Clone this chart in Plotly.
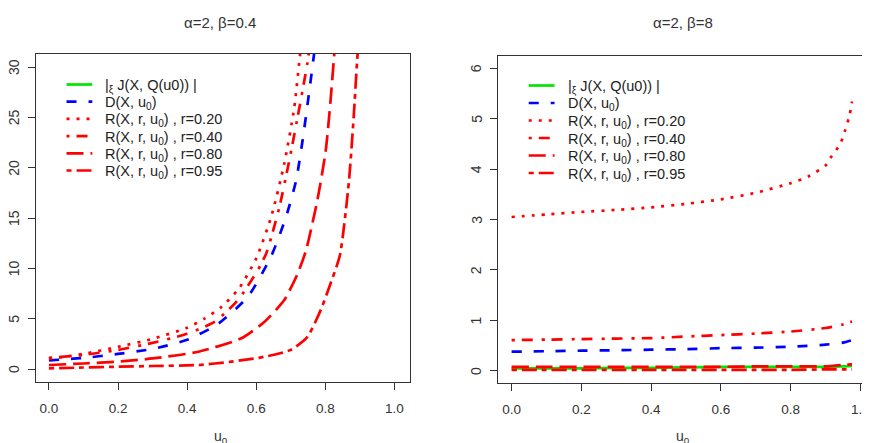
import plotly.graph_objects as go

# ---------------- Left panel (alpha=2, beta=0.4) ----------------
L_u_r20 = [0, 0.1, 0.2, 0.3, 0.4, 0.45, 0.5, 0.55, 0.6, 0.643, 0.681, 0.71, 0.725, 0.735]
L_v_r20 = [1.0, 1.5, 2.2, 3.0, 4.1, 5.0, 6.2, 8.0, 11.0, 15.1, 20.4, 26.0, 30.7, 33.5]

L_u_r40 = [0, 0.1, 0.2, 0.3, 0.4, 0.48, 0.547, 0.604, 0.629, 0.667, 0.696, 0.72, 0.748, 0.758]
L_v_r40 = [1.1, 1.4, 1.9, 2.6, 3.5, 4.7, 6.85, 9.8, 11.5, 16.1, 20.8, 25.1, 30.4, 33.0]

L_u_D = [0, 0.1, 0.2, 0.3, 0.4, 0.49, 0.576, 0.643, 0.686, 0.715, 0.734, 0.753, 0.768, 0.775]
L_v_D = [0.85, 1.1, 1.5, 2.0, 2.9, 4.5, 7.2, 11.2, 15.1, 18.7, 22.7, 27.5, 31.5, 33.5]

L_u_r80 = [0, 0.1, 0.2, 0.3, 0.433, 0.557, 0.624, 0.681, 0.72, 0.744, 0.777, 0.801, 0.815, 0.825, 0.83]
L_v_r80 = [0.4, 0.55, 0.73, 1.05, 1.72, 3.05, 4.7, 6.85, 9.5, 11.8, 16.8, 21.7, 26.7, 31.0, 33.0]

L_u_r95 = [0, 0.1, 0.2, 0.3, 0.433, 0.528, 0.624, 0.7, 0.748, 0.787, 0.815, 0.842, 0.868, 0.882, 0.892, 0.897]
L_v_r95 = [0.07, 0.15, 0.23, 0.3, 0.4, 0.73, 1.22, 1.9, 3.2, 5.9, 8.5, 11.3, 18.6, 25.1, 30.7, 33.0]

# ---------------- Right panel (alpha=2, beta=8) ----------------
R_u_r20 = [0, 0.1, 0.2, 0.3, 0.4, 0.5, 0.6, 0.7, 0.8, 0.85, 0.9, 0.917, 0.941, 0.955, 0.969, 0.976]
R_v_r20 = [3.05, 3.1, 3.15, 3.19, 3.24, 3.31, 3.4, 3.53, 3.72, 3.85, 4.07, 4.25, 4.48, 4.74, 5.07, 5.34]

R_u = [0, 0.1, 0.2, 0.3, 0.4, 0.5, 0.6, 0.7, 0.8, 0.9, 0.95, 0.976]
R_v_r40 = [0.61, 0.62, 0.63, 0.64, 0.65, 0.68, 0.71, 0.74, 0.78, 0.85, 0.92, 0.98]
R_v_D = [0.38, 0.39, 0.40, 0.41, 0.42, 0.43, 0.45, 0.46, 0.48, 0.52, 0.56, 0.61]
R_v_J = [0.05, 0.05, 0.05, 0.06, 0.06, 0.07, 0.08, 0.08, 0.08, 0.08, 0.09, 0.10]
R_v_r80 = [0.08, 0.08, 0.08, 0.08, 0.08, 0.08, 0.08, 0.09, 0.09, 0.09, 0.12, 0.13]
R_v_r95 = [0.02, 0.02, 0.02, 0.02, 0.02, 0.02, 0.02, 0.02, 0.02, 0.03, 0.03, 0.03]

titles = ["α=2, β=0.4", "α=2, β=8"]
names = [
    "|<sub>ξ</sub> J(X, Q(u0)) |",
    "D(X, u<sub>0</sub>)",
    "R(X, r, u<sub>0</sub>) , r=0.20",
    "R(X, r, u<sub>0</sub>) , r=0.40",
    "R(X, r, u<sub>0</sub>) , r=0.80",
    "R(X, r, u<sub>0</sub>) , r=0.95",
]
x_ticks = [0, 0.2, 0.4, 0.6, 0.8, 1.0]
x_ticklabels = ["0.0", "0.2", "0.4", "0.6", "0.8", "1.0"]
yL_ticks = [0, 5, 10, 15, 20, 25, 30]
yR_ticks = [0, 1, 2, 3, 4, 5, 6]

GREEN = "#00e600"
BLUE = "#0000ff"
RED = "#ff0000"
W = 2.7
styles = [
    dict(color=GREEN, width=W, dash="solid"),
    dict(color=BLUE, width=W, dash="10px,12px"),
    dict(color=RED, width=W, dash="3px,7px"),
    dict(color=RED, width=W, dash="3px,7px,11px,9px"),
    dict(color=RED, width=W, dash="17px,7px"),
    dict(color=RED, width=W, dash="5px,5px,15px,5px"),
]

left = [(L_u_D, L_v_D), (L_u_r20, L_v_r20), (L_u_r40, L_v_r40),
        (L_u_r80, L_v_r80), (L_u_r95, L_v_r95)]
left_style = [1, 2, 3, 4, 5]
right = [(R_u, R_v_J), (R_u, R_v_D), (R_u_r20, R_v_r20), (R_u, R_v_r40),
         (R_u, R_v_r80), (R_u, R_v_r95)]
right_style = [0, 1, 2, 3, 4, 5]

fig = go.Figure()
for (xs, ys), si in zip(left, left_style):
    fig.add_trace(go.Scatter(x=xs, y=ys, mode="lines", name=names[si],
                             line=dict(**styles[si], shape="spline", smoothing=0.6),
                             xaxis="x", yaxis="y", showlegend=False))
for (xs, ys), si in zip(right, right_style):
    fig.add_trace(go.Scatter(x=xs, y=ys, mode="lines", name=names[si],
                             line=dict(**styles[si], shape="spline", smoothing=0.6),
                             xaxis="x2", yaxis="y2", showlegend=False))

# The page body has an 8px margin; lay out in reference pixels minus that offset.
OFF = 8
FW = 870 - OFF
FH = 443 - OFF


def px(xr):
    return (xr - OFF) / FW


def py(yr):
    return 1 - (yr - OFF) / FH


AX = "#333333"
FONT = "Liberation Sans, Arial, sans-serif"
TXT = "#333333"
tickfont = dict(family=FONT, size=13.5, color=TXT)
ytickfont = dict(family=FONT, size=14, color=TXT)

common_x = dict(tickvals=x_ticks, ticktext=x_ticklabels, ticks="outside", ticklen=7,
                tickcolor=AX, showline=True, linecolor=AX, linewidth=1, showgrid=False,
                zeroline=False, tickfont=tickfont, ticklabelstandoff=7,
                ticklabeloverflow="allow")
common_y = dict(ticks="outside", ticklen=7, tickcolor=AX, showline=True, linecolor=AX,
                linewidth=1, showgrid=False, zeroline=False, showticklabels=False)

fig.update_layout(
    width=FW, height=FH,
    margin=dict(l=0, r=0, t=0, b=0),
    paper_bgcolor="white", plot_bgcolor="white",
    font=dict(family=FONT),
    showlegend=False,
    xaxis=dict(domain=[px(36), px(413)], range=[-0.038, 1.044], mirror=True, **common_x),
    yaxis=dict(domain=[py(382), py(54)], range=[-1.29, 31.3], tickvals=yL_ticks,
               mirror=True, anchor="x", **common_y),
    xaxis2=dict(domain=[px(502), 1.0], range=[-0.039, 1.0074], mirror=True, anchor="y2",
                **common_x),
    yaxis2=dict(domain=[py(383), py(56)], range=[-0.24, 6.24], tickvals=yR_ticks,
                mirror=False, anchor="x2", **common_y),
)

# rotated y tick labels (R style, reading upward)
for yref, ticks, xr in (("y", yL_ticks, 14), ("y2", yR_ticks, 480)):
    for t in ticks:
        fig.add_annotation(xref="paper", yref=yref, x=px(xr), y=t, text=str(t),
                           textangle=-90, showarrow=False, xanchor="center",
                           yanchor="middle", font=ytickfont)

# titles and x-axis labels
anns = [
    dict(text=titles[0], x=px(222), y=py(23), size=15),
    dict(text=titles[1], x=px(689), y=py(23), size=15),
    dict(text="u<sub>0</sub>", x=px(223), y=py(437), size=14),
    dict(text="u<sub>0</sub>", x=px(689), y=py(437), size=14),
]
for a in anns:
    size = a.pop("size")
    fig.add_annotation(xref="paper", yref="paper", showarrow=False, xanchor="center",
                       yanchor="middle", font=dict(family=FONT, size=size, color=TXT), **a)

# legends (key segments + text), one per panel
legend_specs = [
    dict(x0=67, x1=93, xt=104, y0=84.5, dy=17.2),
    dict(x0=533, x1=559, xt=571, y0=85.5, dy=17.5),
]
for spec in legend_specs:
    for i in range(6):
        yr = spec["y0"] + i * spec["dy"]
        st = styles[i]
        fig.add_shape(type="line", xref="paper", yref="paper",
                      x0=px(spec["x0"]), x1=px(spec["x1"]), y0=py(yr), y1=py(yr),
                      line=dict(color=st["color"], width=st["width"], dash=st["dash"]))
        fig.add_annotation(xref="paper", yref="paper", showarrow=False, xanchor="left",
                           yanchor="middle", x=px(spec["xt"]), y=py(yr + 1.5),
                           text=names[i],
                           font=dict(family=FONT, size=14.5, color="#222222"))

fig.write_html("out.html")
